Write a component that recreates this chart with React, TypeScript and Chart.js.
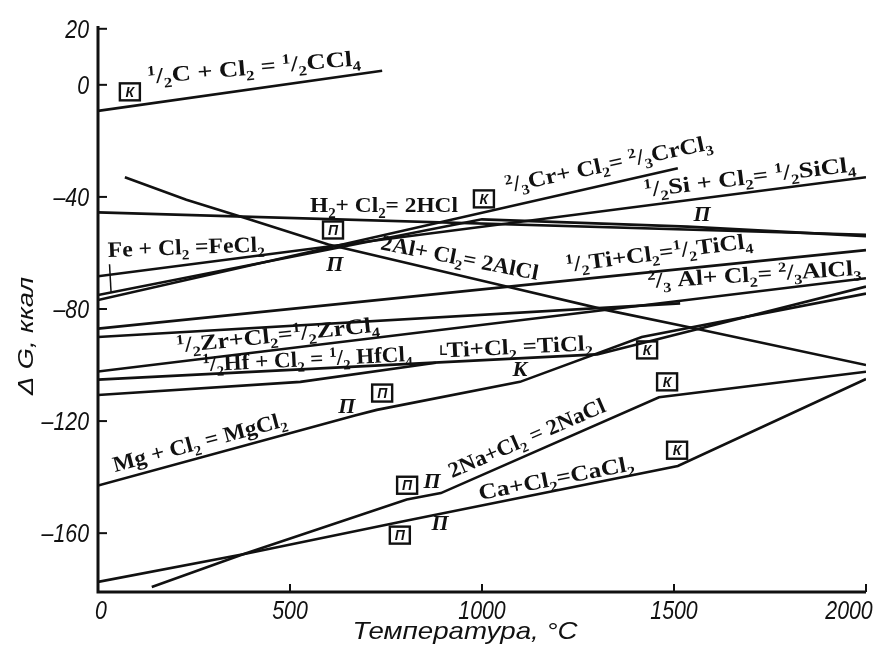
import React, { useEffect, useRef } from "react";
import { Chart, registerables } from "chart.js";
Chart.register(...registerables);

type P = [number, number];

// ---- axis ticks ----
const xTicks = [0, 500, 1000, 1500, 2000];
const yTicks = [-160, -120, -80, -40, 0, 20];

// ---- reaction lines (temperature °C, ΔG kcal) ----
const lineCCl4: P[] = [[0, -9.3], [740, 5]];
const lineHCl: P[] = [[0, -45.5], [2000, -53.5]];
const lineCrCl3: P[] = [[0, -76.8], [1510, -29.8]];
const lineSiCl4: P[] = [[0, -68.3], [2000, -33]];
const lineFeCl2: P[] = [[0, -75], [1000, -48], [1535, -50.6], [2000, -54]];
const lineAlCl: P[] = [[70, -33], [230, -41], [383, -47.5], [600, -57], [1064, -72], [1325, -80.4], [1549, -86.8], [2000, -100]];
const lineTiCl4: P[] = [[0, -87], [2000, -59]];
const lineAlCl3: P[] = [[0, -90], [1516, -78]];
const lineZrCl4: P[] = [[0, -102.3], [2000, -69]];
const lineHfCl4: P[] = [[0, -105.2], [1300, -96.2], [2000, -72]];
const lineTiCl2: P[] = [[0, -110.7], [527, -106], [880, -99.2]];
const lineMgCl2: P[] = [[0, -143], [669, -118], [726, -116], [1099, -106], [1416, -90], [2000, -74.5]];
const lineNaCl: P[] = [[140, -179.2], [378, -167.5], [804, -148], [893, -145.7], [1461, -111.5], [2000, -102.4]];
const lineCaCl2: P[] = [[0, -177.4], [378, -167.5], [786, -156], [860, -154], [1510, -136], [2000, -105]];

const allLines: P[][] = [
  lineCCl4, lineHCl, lineCrCl3, lineSiCl4, lineFeCl2, lineAlCl, lineTiCl4,
  lineAlCl3, lineZrCl4, lineHfCl4, lineTiCl2, lineMgCl2, lineNaCl, lineCaCl2,
];

// ---- reaction labels: text, anchor (x, y data), angle deg, target width px ----
const labelTexts = [
  "^{1}/_{2}C + Cl_{2} = ^{1}/_{2}CCl_{4}",
  "H_{2}+ Cl_{2}= 2HCl",
  "^{2}/_{3}Cr+ Cl_{2}= ^{2}/_{3}CrCl_{3}",
  "^{1}/_{2}Si + Cl_{2}= ^{1}/_{2}SiCl_{4}",
  "Fe + Cl_{2} =FeCl_{2}",
  "2Al+ Cl_{2}= 2AlCl",
  "^{1}/_{2}Ti+Cl_{2}=^{1}/_{2}TiCl_{4}",
  "^{2}/_{3} Al+ Cl_{2}= ^{2}/_{3}AlCl_{3}",
  "^{1}/_{2}Zr+Cl_{2}=^{1}/_{2}ZrCl_{4}",
  "^{1}/_{2}Hf + Cl_{2} = ^{1}/_{2} HfCl_{4}",
  "Ti+Cl_{2} =TiCl_{2}",
  "Mg + Cl_{2} = MgCl_{2}",
  "2Na+Cl_{2} = 2NaCl",
  "Ca+Cl_{2}=CaCl_{2}",
];
const labelX = [130, 552, 1065, 1424, 26, 734, 1221, 1432, 206, 273, 909, 44, 922, 995];
const labelY = [0.4, -45.5, -38.5, -40, -61.4, -58.7, -66.8, -72.5, -95.6, -102.2, -97.2, -138.2, -140.4, -148.2];
const labelAngle = [-5, 0, -12, -7, -2, 11, -7.5, -3.5, -6, -2.8, -2.8, -15, -23.5, -11];
const labelWidth = [214, 148, 211, 213, 157, 160, 188, 214, 204, 210, 146, 179, 169, 158];

// ---- phase transition marks ----
const boxLetters = ["К", "К", "П", "П", "К", "К", "К", "П", "П"];
const boxX = [83, 1005, 612, 740, 1430, 1482, 1508, 805, 786];
const boxY = [-2.5, -40.7, -51.8, -110, -94.6, -106, -130.4, -142.9, -160.7];
const markLetters = ["П", "П", "К", "П", "П", "П"];
const markX = [1573, 617, 1099, 648, 870, 891];
const markY = [-46.4, -64.3, -101.8, -115, -141.8, -157];

const X_TITLE = "Температура, °C";
const Y_TITLE = "Δ G, ккал";

function drawRich(ctx: CanvasRenderingContext2D, text: string, size: number, family: string, draw: boolean): number {
  const parts: { t: string; k: string }[] = [];
  const re = /([\^_])\{([^}]*)\}/g;
  let last = 0;
  let m: RegExpExecArray | null;
  while ((m = re.exec(text))) {
    if (m.index > last) parts.push({ t: text.slice(last, m.index), k: "n" });
    parts.push({ t: m[2], k: m[1] === "^" ? "sup" : "sub" });
    last = re.lastIndex;
  }
  if (last < text.length) parts.push({ t: text.slice(last), k: "n" });
  let cx = 0;
  for (const p of parts) {
    const s = p.k === "n" ? size : size * 0.64;
    ctx.font = `bold ${s}px ${family}`;
    const dy = p.k === "sup" ? -size * 0.36 : p.k === "sub" ? size * 0.24 : 0;
    if (draw) ctx.fillText(p.t, cx, dy);
    cx += ctx.measureText(p.t).width;
  }
  return cx;
}

const SERIF = "'Liberation Serif', 'DejaVu Serif', serif";
const SANS = "'Liberation Sans', 'DejaVu Sans', sans-serif";

const decorPlugin = {
  id: "decor",
  afterDatasetsDraw(chart: any) {
    const ctx: CanvasRenderingContext2D = chart.ctx;
    const xs = chart.scales.x;
    const ys = chart.scales.y;
    const ca = chart.chartArea;
    ctx.save();
    ctx.fillStyle = "#111";
    ctx.strokeStyle = "#111";
    // axes
    ctx.lineWidth = 3;
    ctx.beginPath();
    ctx.moveTo(ca.left, ca.top);
    ctx.lineTo(ca.left, ca.bottom);
    ctx.lineTo(ca.right, ca.bottom);
    ctx.stroke();
    // inward ticks
    ctx.lineWidth = 2;
    for (const v of yTicks) {
      const py = ys.getPixelForValue(v);
      ctx.beginPath();
      ctx.moveTo(ca.left, py);
      ctx.lineTo(ca.left + 9, py);
      ctx.stroke();
    }
    for (const v of xTicks) {
      if (v === 0) continue;
      const px = xs.getPixelForValue(v);
      ctx.beginPath();
      ctx.moveTo(px, ca.bottom);
      ctx.lineTo(px, ca.bottom - 8);
      ctx.stroke();
    }
    // tick labels (condensed italic)
    ctx.textBaseline = "alphabetic";
    for (const v of yTicks) {
      const py = ys.getPixelForValue(v);
      const t = v < 0 ? "–" + Math.abs(v) : String(v);
      ctx.save();
      ctx.translate(ca.left - 9, py + 9);
      ctx.scale(0.82, 1);
      ctx.font = `italic 26px ${SANS}`;
      ctx.textAlign = "right";
      ctx.fillText(t, 0, 0);
      ctx.restore();
    }
    for (const v of xTicks) {
      const px = xs.getPixelForValue(v);
      const shift = v === 0 ? 3 : v === 2000 ? -17 : 0;
      ctx.save();
      ctx.translate(px + shift, ca.bottom + 27);
      ctx.scale(0.82, 1);
      ctx.font = `italic 26px ${SANS}`;
      ctx.textAlign = "center";
      ctx.fillText(String(v), 0, 0);
      ctx.restore();
    }
    // axis titles
    ctx.save();
    ctx.font = `italic 24px ${SANS}`;
    ctx.textAlign = "center";
    let w = ctx.measureText(X_TITLE).width;
    ctx.translate(465, ca.bottom + 47);
    ctx.scale(225 / w, 1);
    ctx.fillText(X_TITLE, 0, 0);
    ctx.restore();
    ctx.save();
    ctx.font = `italic 22px ${SANS}`;
    ctx.textAlign = "center";
    w = ctx.measureText(Y_TITLE).width;
    ctx.translate(33, 336);
    ctx.rotate(-Math.PI / 2);
    ctx.scale(118 / w, 1);
    ctx.fillText(Y_TITLE, 0, 0);
    ctx.restore();
    // reaction labels
    ctx.textAlign = "left";
    for (let i = 0; i < labelTexts.length; i++) {
      const px = xs.getPixelForValue(labelX[i]);
      const py = ys.getPixelForValue(labelY[i]);
      const nat = drawRich(ctx, labelTexts[i], 22, SERIF, false);
      ctx.save();
      ctx.translate(px, py);
      ctx.rotate((labelAngle[i] * Math.PI) / 180);
      ctx.scale(labelWidth[i] / nat, 1);
      drawRich(ctx, labelTexts[i], 22, SERIF, true);
      ctx.restore();
    }
    // leaders
    ctx.lineWidth = 1.5;
    ctx.beginPath();
    ctx.moveTo(xs.getPixelForValue(30), ys.getPixelForValue(-64));
    ctx.lineTo(xs.getPixelForValue(34), ys.getPixelForValue(-74));
    ctx.stroke();
    {
      const bx = xs.getPixelForValue(909) - 6;
      const by = ys.getPixelForValue(-97.2);
      ctx.beginPath();
      ctx.moveTo(bx, by - 12);
      ctx.lineTo(bx, by - 3);
      ctx.lineTo(bx + 6, by - 3);
      ctx.stroke();
    }
    // boxed marks
    for (let i = 0; i < boxLetters.length; i++) {
      const px = xs.getPixelForValue(boxX[i]);
      const py = ys.getPixelForValue(boxY[i]);
      ctx.lineWidth = 2.4;
      ctx.strokeRect(px - 10, py - 8.5, 20, 17);
      ctx.font = `italic bold 14px ${SANS}`;
      ctx.textAlign = "center";
      ctx.textBaseline = "middle";
      ctx.fillText(boxLetters[i], px, py + 1);
    }
    // italic marks
    for (let i = 0; i < markLetters.length; i++) {
      const px = xs.getPixelForValue(markX[i]);
      const py = ys.getPixelForValue(markY[i]);
      ctx.font = `italic bold 22px ${SERIF}`;
      ctx.textAlign = "center";
      ctx.textBaseline = "middle";
      ctx.fillText(markLetters[i], px, py);
    }
    ctx.restore();
  },
};

export default function App() {
  const ref = useRef<HTMLCanvasElement | null>(null);
  useEffect(() => {
    if (!ref.current) return;
    const chart = new Chart(ref.current, {
      type: "line",
      data: {
        datasets: allLines.map((pts) => ({
          data: pts.map(([x, y]) => ({ x, y })),
          borderColor: "#111",
          borderWidth: 2.6,
          pointRadius: 0,
          tension: 0,
          fill: false,
        })),
      },
      options: {
        animation: false,
        responsive: false,
        devicePixelRatio: 1,
        layout: { padding: { left: 98, right: 19, top: 26, bottom: 54 } },
        plugins: { legend: { display: false }, tooltip: { enabled: false } },
        scales: {
          x: { type: "linear", min: 0, max: 2000, display: false },
          y: { type: "linear", min: -181, max: 21, display: false },
        },
      },
      plugins: [decorPlugin],
    });
    return () => chart.destroy();
  }, []);
  return (
    <div style={{ position: "absolute", left: 0, top: 0, width: 885, height: 646, background: "#fff" }}>
      <canvas ref={ref} width={885} height={646} />
    </div>
  );
}
